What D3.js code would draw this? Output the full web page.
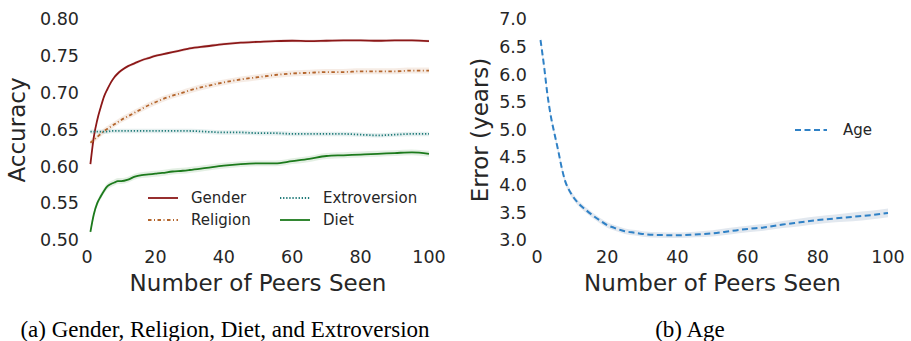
<!DOCTYPE html>
<meta charset="utf-8" />
<script src="https://d3js.org/d3.v7.js"></script>
<style>
	body { margin: 0; background: #fff; }
	text { font-family: "DejaVu Sans", sans-serif; fill: #262626; }
	.caption { font-family: "Liberation Serif", "Times New Roman", serif; fill: #000; }
</style>
<div id="chart"></div>
<script>
	// x values (number of peers seen)
	const peers = [1, 2, 3, 4, 5, 6, 7, 8, 9, 10, 12, 14, 16, 18, 20, 22, 25, 28, 30, 35, 40, 45, 50, 55, 60, 65, 70, 75, 80, 85, 90, 95, 100];

	// accuracy curves, panel (a)
	const gender = [0.603, 0.640, 0.663, 0.680, 0.695, 0.705, 0.714, 0.721, 0.726, 0.730, 0.736, 0.740, 0.744, 0.747, 0.750, 0.752, 0.755, 0.758, 0.760, 0.763, 0.766, 0.768, 0.769, 0.770, 0.7705, 0.770, 0.7705, 0.771, 0.771, 0.7705, 0.771, 0.771, 0.770];
	const religion = [0.632, 0.636, 0.640, 0.644, 0.648, 0.651, 0.654, 0.657, 0.660, 0.663, 0.668, 0.673, 0.678, 0.683, 0.687, 0.691, 0.696, 0.700, 0.703, 0.709, 0.714, 0.718, 0.721, 0.724, 0.726, 0.727, 0.728, 0.728, 0.729, 0.729, 0.729, 0.730, 0.730];
	const extroversion = [0.647, 0.647, 0.647, 0.647, 0.647, 0.647, 0.648, 0.648, 0.648, 0.648, 0.648, 0.648, 0.648, 0.648, 0.648, 0.648, 0.648, 0.648, 0.648, 0.647, 0.646, 0.646, 0.645, 0.645, 0.644, 0.644, 0.644, 0.644, 0.643, 0.642, 0.643, 0.644, 0.644];
	const diet = [0.511, 0.535, 0.550, 0.559, 0.567, 0.573, 0.576, 0.578, 0.580, 0.580, 0.582, 0.586, 0.588, 0.589, 0.590, 0.591, 0.593, 0.594, 0.595, 0.598, 0.601, 0.603, 0.604, 0.604, 0.607, 0.610, 0.614, 0.615, 0.616, 0.617, 0.618, 0.619, 0.617];

	// age error curve, panel (b)
	const age = [6.62, 6.15, 5.62, 5.22, 4.92, 4.63, 4.32, 4.07, 3.92, 3.81, 3.65, 3.54, 3.44, 3.35, 3.27, 3.22, 3.16, 3.13, 3.11, 3.09, 3.085, 3.10, 3.12, 3.16, 3.20, 3.23, 3.28, 3.32, 3.36, 3.39, 3.42, 3.45, 3.49];
	const ageCi = [0.05, 0.05, 0.05, 0.05, 0.05, 0.05, 0.05, 0.05, 0.05, 0.05, 0.05, 0.05, 0.05, 0.05, 0.05, 0.05, 0.05, 0.05, 0.05, 0.05, 0.05, 0.05, 0.055, 0.06, 0.06, 0.06, 0.065, 0.07, 0.07, 0.07, 0.08, 0.08, 0.08];

	// confidence half-widths for panel (a)
	const ciA = { Gender: 0.002, Religion: 0.004, Extroversion: 0.003, Diet: 0.004 };

	const xTicks = [0, 20, 40, 60, 80, 100];
	const accTicks = [0.50, 0.55, 0.60, 0.65, 0.70, 0.75, 0.80];
	const errTicks = [3.0, 3.5, 4.0, 4.5, 5.0, 5.5, 6.0, 6.5, 7.0];

	const seriesA = [
		{ name: "Gender", values: gender, color: "#8c1818", dash: null },
		{ name: "Religion", values: religion, color: "#b4652c", dash: "3.5,2.5,1,2.5" },
		{ name: "Extroversion", values: extroversion, color: "#1f7a78", dash: "1.3,1.8" },
		{ name: "Diet", values: diet, color: "#1c7a1c", dash: null }
	];

	const svg = d3.select("#chart").append("svg")
		.attr("width", 911)
		.attr("height", 341);

	// ---- panel (a) ----
	const xA = d3.scaleLinear().domain([0, 100]).range([87, 429]);
	const yA = d3.scaleLinear().domain([0.5, 0.8]).range([240, 19]);

	const gA = svg.append("g");

	seriesA.forEach(s => {
		const ci = ciA[s.name];
		const area = d3.area()
			.x((d, i) => xA(peers[i]))
			.y0(d => yA(d - ci))
			.y1(d => yA(d + ci))
			.curve(d3.curveMonotoneX);
		gA.append("path")
			.attr("d", area(s.values))
			.attr("fill", s.color)
			.attr("opacity", 0.12);
	});

	seriesA.forEach(s => {
		const line = d3.line()
			.x((d, i) => xA(peers[i]))
			.y(d => yA(d))
			.curve(d3.curveMonotoneX);
		gA.append("path")
			.attr("d", line(s.values))
			.attr("fill", "none")
			.attr("stroke", s.color)
			.attr("stroke-width", 1.8)
			.attr("stroke-dasharray", s.dash);
	});

	gA.selectAll(".ytick").data(accTicks).enter().append("text")
		.attr("x", 79)
		.attr("y", d => yA(d))
		.attr("dy", "0.36em")
		.attr("text-anchor", "end")
		.style("font-size", "17.5px")
		.text(d => d3.format(".2f")(d));

	gA.selectAll(".xtick").data(xTicks).enter().append("text")
		.attr("x", d => xA(d))
		.attr("y", 263)
		.attr("text-anchor", "middle")
		.style("font-size", "17.5px")
		.text(d => d);

	gA.append("text")
		.attr("transform", "translate(25,130) rotate(-90)")
		.attr("text-anchor", "middle")
		.style("font-size", "23px")
		.text("Accuracy");

	gA.append("text")
		.attr("x", (xA(0) + xA(100)) / 2)
		.attr("y", 291)
		.attr("text-anchor", "middle")
		.style("font-size", "23px")
		.text("Number of Peers Seen");

	// legend (two columns)
	const legA = gA.selectAll(".legend").data(seriesA).enter().append("g")
		.attr("transform", (d, i) => "translate(" + (i < 2 ? 148 : 280) + "," + (i % 2 === 0 ? 198 : 220) + ")");
	legA.append("line")
		.attr("x1", 0).attr("x2", 30)
		.attr("stroke", d => d.color)
		.attr("stroke-width", 1.8)
		.attr("stroke-dasharray", d => d.dash);
	legA.append("text")
		.attr("x", 43)
		.attr("dy", "0.36em")
		.style("font-size", "15px")
		.text(d => d.name);

	// ---- panel (b) ----
	const xB = d3.scaleLinear().domain([0, 100]).range([537, 888]);
	const yB = d3.scaleLinear().domain([3.0, 7.0]).range([240, 19]);
	const ageColor = "#2f81c6";

	const gB = svg.append("g");

	gB.append("path")
		.attr("d", d3.area()
			.x((d, i) => xB(peers[i]))
			.y0((d, i) => yB(d - ageCi[i]))
			.y1((d, i) => yB(d + ageCi[i]))
			.curve(d3.curveMonotoneX)(age))
		.attr("fill", "#8aa4bf")
		.attr("opacity", 0.25);

	gB.append("path")
		.attr("d", d3.line()
			.x((d, i) => xB(peers[i]))
			.y(d => yB(d))
			.curve(d3.curveMonotoneX)(age))
		.attr("fill", "none")
		.attr("stroke", ageColor)
		.attr("stroke-width", 2)
		.attr("stroke-dasharray", "6,3.5");

	gB.selectAll(".ytick").data(errTicks).enter().append("text")
		.attr("x", 527)
		.attr("y", d => yB(d))
		.attr("dy", "0.36em")
		.attr("text-anchor", "end")
		.style("font-size", "17.5px")
		.text(d => d3.format(".1f")(d));

	gB.selectAll(".xtick").data(xTicks).enter().append("text")
		.attr("x", d => xB(d))
		.attr("y", 263)
		.attr("text-anchor", "middle")
		.style("font-size", "17.5px")
		.text(d => d);

	gB.append("text")
		.attr("transform", "translate(488,130) rotate(-90)")
		.attr("text-anchor", "middle")
		.style("font-size", "23px")
		.text("Error (years)");

	gB.append("text")
		.attr("x", (xB(0) + xB(100)) / 2)
		.attr("y", 291)
		.attr("text-anchor", "middle")
		.style("font-size", "23px")
		.text("Number of Peers Seen");

	const legB = gB.append("g").attr("transform", "translate(795,130)");
	legB.append("line")
		.attr("x1", 0).attr("x2", 32)
		.attr("stroke", ageColor)
		.attr("stroke-width", 2)
		.attr("stroke-dasharray", "6,3.5");
	legB.append("text")
		.attr("x", 48)
		.attr("dy", "0.36em")
		.style("font-size", "15px")
		.text("Age");

	// ---- captions ----
	svg.append("text").attr("class", "caption")
		.attr("x", 225).attr("y", 337)
		.attr("text-anchor", "middle")
		.style("font-size", "23px")
		.text("(a) Gender, Religion, Diet, and Extroversion");

	svg.append("text").attr("class", "caption")
		.attr("x", 690).attr("y", 337)
		.attr("text-anchor", "middle")
		.style("font-size", "23px")
		.text("(b) Age");
</script>
